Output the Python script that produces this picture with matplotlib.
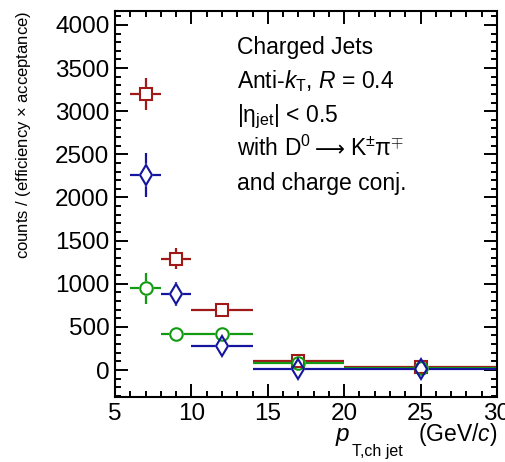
import matplotlib
matplotlib.use("Agg")
import matplotlib.pyplot as plt
from matplotlib.ticker import MultipleLocator

plt.rcParams['font.family'] = ['Liberation Sans', 'DejaVu Sans']
plt.rcParams['mathtext.fontset'] = 'custom'
plt.rcParams['mathtext.rm'] = 'Liberation Sans'
plt.rcParams['mathtext.it'] = 'Liberation Sans:italic'
plt.rcParams['mathtext.bf'] = 'Liberation Sans:bold'

# pT bins (GeV/c)
bin_centers = [7, 9, 12, 17, 25]
bin_halfwidths = [1, 1, 2, 3, 5]

# three series
red_vals = [3200, 1290, 700, 108, 38]
red_errs = [180, 120, 60, 30, 20]
green_vals = [950, 420, 420, 78, 27]
green_errs = [180, 50, 50, 25, 15]
blue_vals = [2260, 880, 280, 12, 6]
blue_errs = [260, 140, 90, 20, 12]

legend_lines = [
    "Charged Jets",
    r"Anti-$k_{\mathrm{T}}$, $R$ = 0.4",
    r"|$\mathrm{\eta}_{\mathrm{jet}}$| < 0.5",
    None,  # decay line, drawn in pieces below
    "and charge conj.",
]

fig = plt.figure(figsize=(5.06, 4.62), dpi=100)
ax = fig.add_axes([115/506, 1 - 397/462, (497 - 115)/506, (397 - 11)/462])

series = [
    (red_vals, red_errs, '#a01818', 's', 8.6),
    (green_vals, green_errs, '#139a13', 'o', 9.0),
    (blue_vals, blue_errs, '#14149e', 'd', 10.5),
]
for vals, errs, col, mk, ms in series:
    ax.errorbar(bin_centers, vals, xerr=bin_halfwidths, yerr=errs, fmt='none',
                ecolor=col, elinewidth=1.6, capsize=0, zorder=2)
    # white fill hides the bars inside the marker, outline drawn on top
    ax.plot(bin_centers, vals, mk, markersize=ms, markerfacecolor='white',
            markeredgecolor='white', markeredgewidth=1.5, zorder=3)
for vals, errs, col, mk, ms in series:
    ax.plot(bin_centers, vals, mk, markersize=ms, markerfacecolor='none',
            markeredgecolor=col, markeredgewidth=1.5, zorder=4)

ax.set_xlim(5, 30)
ax.set_ylim(-313, 4162)
ax.xaxis.set_major_locator(MultipleLocator(5))
ax.xaxis.set_minor_locator(MultipleLocator(1))
ax.yaxis.set_major_locator(MultipleLocator(500))
ax.yaxis.set_minor_locator(MultipleLocator(100))
ax.tick_params(which='both', direction='in', top=True, right=True, width=1.4,
               labelsize=17.5)
ax.tick_params(which='major', length=9.4)
ax.tick_params(which='minor', length=4.6)
ax.tick_params(axis='x', pad=4)
ax.tick_params(axis='y', pad=4)
for sp in ax.spines.values():
    sp.set_linewidth(1.5)

ax.set_ylabel("counts / (efficiency $\\times$ acceptance)", fontsize=12,
              loc='top', labelpad=16)

# x title: p, lowered subscript, units
fig.text(335/506, 1 - 441/462, r"$p$", ha='left', va='baseline', fontsize=17.5)
fig.text(352/506, 1 - 456/462, "T,ch jet", ha='left', va='baseline', fontsize=11.5)
fig.text(497/506, 1 - 441/462, r"(GeV/$c$)", ha='right', va='baseline', fontsize=16.5)

baselines = [54, 88, 122, 156, 190]
for txt, yb in zip(legend_lines, baselines):
    if txt is None:
        continue
    fig.text(237/506, 1 - yb/462, txt, ha='left', va='baseline', fontsize=16.5)

yb = 1 - baselines[3]/462
fig.text(237/506, yb, r"with D$^{0}$", ha='left', va='baseline', fontsize=16.5)
fig.text(315/506, yb, "⟶", ha='left', va='baseline', fontsize=15,
         family=['DejaVu Sans'])
fig.text(350/506, yb, r"K$^{\pm}\mathrm{\pi}^{\mp}$", ha='left', va='baseline',
         fontsize=16.5)

fig.savefig("out.png", dpi=100)
